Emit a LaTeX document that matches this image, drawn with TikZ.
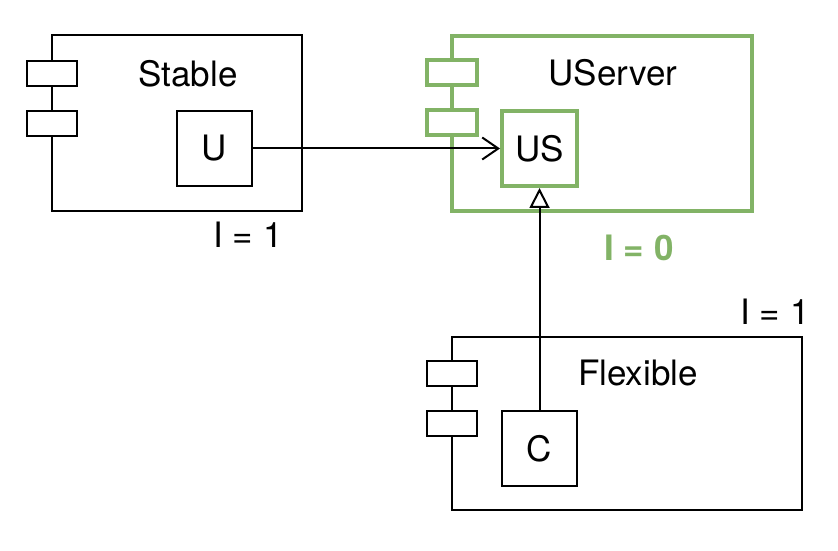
\documentclass[tikz,border=0pt]{standalone}
\usepackage{fontspec}
\setmainfont{TeX Gyre Heros}
\usetikzlibrary{arrows.meta}
\definecolor{usgreen}{HTML}{82B366}
\begin{document}
\begin{tikzpicture}[x=0.5pt,y=-0.5pt,
  comp/.style={draw,line width=1pt,fill=white,inner sep=0pt},
  tab/.style={comp,minimum width=25pt,minimum height=12.5pt},
  part/.style={comp,minimum width=37.5pt,minimum height=37.5pt,font=\fontsize{17.5}{20}\selectfont},
  lbl/.style={font=\fontsize{17.5}{20}\selectfont},
  hot/.style={draw=usgreen,line width=2pt}]
\useasboundingbox (0,0) rectangle (838,550);

\node[comp,minimum width=125pt,minimum height=88pt] (stable) at (177,123) {};
\node[tab] (stabletabA) at (52,73.5) {};
\node[tab] (stabletabB) at (52,123.5) {};
\node[lbl] (stablename) at (188,74) {Stable};
\node[part] (u) at (214.5,148.5) {U};
\node[lbl] (stablei) at (248,235) {I = 1};

\node[comp,hot,minimum width=150pt,minimum height=87.5pt] (userver) at (602,123.5) {};
\node[tab,hot] (usertabA) at (452,73) {};
\node[tab,hot] (usertabB) at (452,123) {};
\node[lbl] (usename) at (613,73) {UServer};
\node[part,hot] (us) at (539.5,148.5) {US};
\node[lbl,text=usgreen,font=\fontsize{17.5}{20}\selectfont\bfseries] (useri) at (639,248) {I = 0};

\node[comp,minimum width=175pt,minimum height=86.5pt] (flexible) at (627,423.5) {};
\node[tab] (flextabA) at (452,373.5) {};
\node[tab] (flextabB) at (452,423.5) {};
\node[lbl] (flexname) at (638,373) {Flexible};
\node[part] (c) at (539.5,448.5) {C};
\node[lbl] (flexi) at (775,312) {I = 1};

\draw[line width=1pt,-{Straight Barb[length=8pt,width=11pt]}] (u) -- (us);
\draw[line width=1pt,-{Triangle[open,length=10pt,width=10pt]}] (c) -- (us);
\end{tikzpicture}
\end{document}
